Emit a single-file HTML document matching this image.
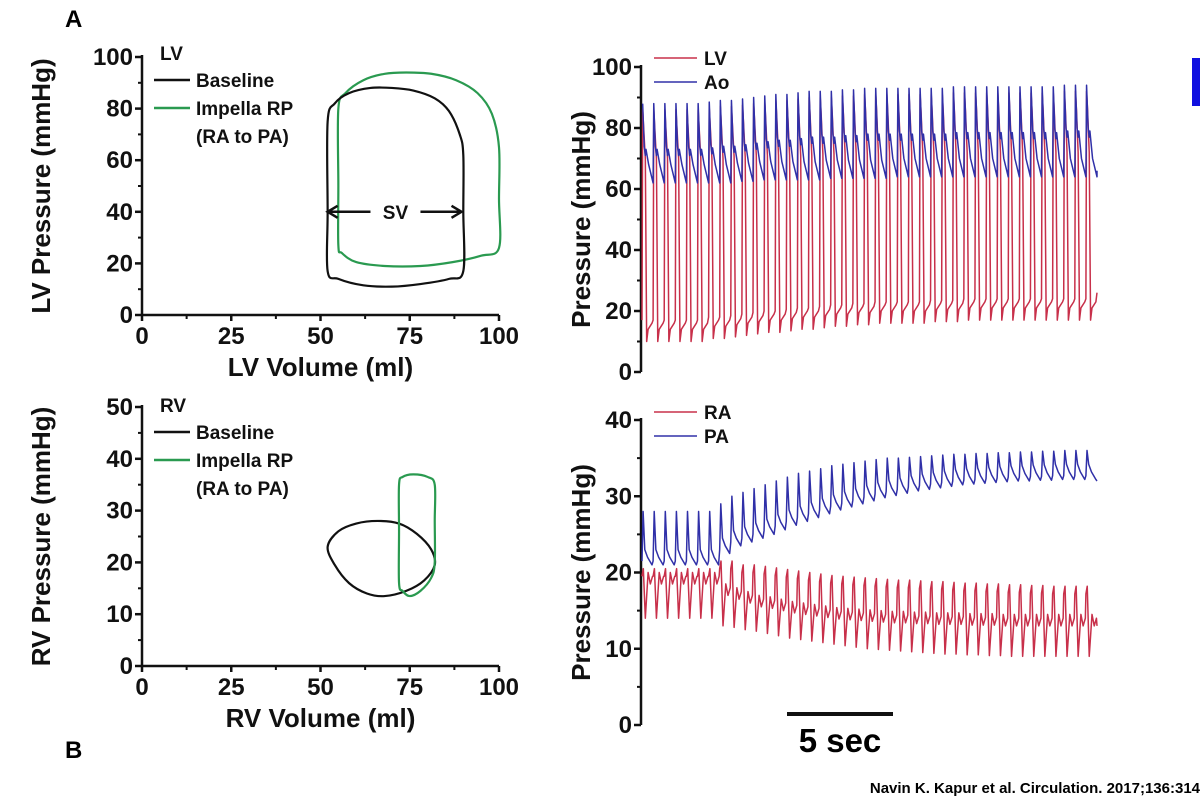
<!DOCTYPE html>
<html><head><meta charset="utf-8"><style>
html,body{margin:0;padding:0;background:#fff;}
svg{display:block;font-family:"Liberation Sans",Arial,sans-serif;}
.tk{font-size:24px;font-weight:bold;fill:#111;}
.tt{font-size:26px;font-weight:bold;fill:#111;}
.lg{font-size:19px;font-weight:bold;fill:#111;}
</style></head><body>
<svg id="svg" width="1200" height="803" viewBox="0 0 1200 803">
<rect x="1192" y="58" width="8" height="48" fill="#1010e0"/>
<text x="65" y="27" style="font-size:24px;font-weight:bold">A</text>
<text x="65" y="758" style="font-size:24px;font-weight:bold">B</text>
<g id="g"></g>
<line x1="787" y1="714" x2="893" y2="714" stroke="#111" stroke-width="4"/>
<text x="840" y="752" text-anchor="middle" style="font-size:33px;font-weight:bold">5 sec</text>
<text x="1200" y="793" text-anchor="end" style="font-size:15px;font-weight:bold">Navin K. Kapur et al. Circulation. 2017;136:314</text>
</svg>
<script>
// LV / Ao per-beat values
const lvAoPeak=[88,88,88,88,88,88,88.5,89,89,89.5,90,90.5,91,91,91.5,92,92,92,92.5,92.5,93,93,93,93,93,93,93,93,93.5,93.5,93.5,93.5,93.5,93.5,93.5,93.5,93.5,93.5,94,94,94];
const aoMin=[62,62,62,62,62,62,62,62,62.5,62.5,63,63,63,63,63,63,63.5,63.5,63.5,63.5,63.5,63.5,64,64,64,64,64,64,64,64,64,64,64,64,64,64,64,64,64,64,64];
const lvMin=[10,10,10,10,10,10,11,11,11.5,12,12.5,13,13,13.5,14,14,14.5,15,15,15.5,15.5,16,16,16,16,16,16.5,16.5,16.5,17,17,17,17,17,17,17,17,17,17,17,17];
// RA / PA per-beat values
const paPeak=[28,28,28,28,28,28,28,29,30,30.5,31,31.5,32,32.5,33,33.3,33.6,34,34.2,34.4,34.6,34.8,35,35,35.1,35.2,35.3,35.4,35.5,35.5,35.6,35.6,35.7,35.7,35.8,35.8,35.9,35.9,36,36,36];
const paMin=[21,21,21,21,21,21,21,22.5,23.5,24,24.5,25,25.6,26.2,26.7,27.2,27.7,28.2,28.6,29,29.4,29.8,30.1,30.4,30.7,30.9,31.1,31.3,31.5,31.6,31.7,31.8,31.9,32,32,32.1,32.1,32.2,32.2,32.2,32.2];
const raPeak=[20.5,20.5,20.5,20.5,20.5,20.5,20.5,21.5,21.5,21,21,20.8,20.6,20.4,20.2,20,19.8,19.6,19.5,19.4,19.3,19.2,19.1,19,19,18.9,18.8,18.8,18.7,18.6,18.6,18.5,18.5,18.4,18.4,18.3,18.3,18.2,18.2,18.2,18.2];
const raMin=[14,14,14,14,14,14,14,13,12.8,12.5,12.3,12,11.7,11.4,11.2,11,10.8,10.6,10.4,10.2,10,9.9,9.8,9.7,9.6,9.5,9.4,9.3,9.3,9.2,9.2,9.1,9.1,9,9,9,9,9,9,9,9];
const raBump=[20,20,20,20,20,20,20,18.5,18,17.5,17,16.8,16.5,16.2,16,15.8,15.6,15.4,15.3,15.2,15.1,15,14.9,14.9,14.8,14.8,14.7,14.7,14.7,14.6,14.6,14.6,14.5,14.5,14.5,14.5,14.5,14.5,14.5,14.5,14.5];
// PV loops [volume, pressure]
const lvBaseVol=[52,52,52,54,58,64,70,76,82,86,89,90,90,90,86,78,70,62,55];
const lvBaseP=[17,40,75,82,86,88,88,87,84,79,70,62,40,17,14,12,11,11.5,14];
const lvImpVol=[55,55,55,57,62,68,74,81,88,94,98,100,100,100,95,87,78,68,60,56];
const lvImpP=[27,50,80,86,91,93.5,94,93.5,91,86,78,65,45,26,23,20.5,19,19,20.5,24];
const rvBaseVol=[52,55,60,66,72,77,81,82,79,74,68,63,58,54];
const rvBaseP=[23,26,27.5,28,27.5,25.5,22.5,19.5,16.5,14.5,13.5,14,16,19.5];
const rvImpVol=[72,72,72,73,76,80,82,82,82,81,78,75,73];
const rvImpP=[16,26,35,36.5,37,36.5,35,28,20,17,14.5,13.5,14.5];

const G=document.getElementById('g');const NS='http://www.w3.org/2000/svg';
function mk(t,a,p){const e=document.createElementNS(NS,t);for(const k in a)e.setAttribute(k,a[k]);(p||G).appendChild(e);return e;}
function lin(d0,d1,r0,r1){return v=>r0+(v-d0)*(r1-r0)/(d1-d0);}

function axes(o){
  const g=mk('g',{});
  
  
  mk('line',{x1:o.x0,y1:o.yT-2,x2:o.x0,y2:o.yB,stroke:'#111','stroke-width':2.5},g);
  o.yt.forEach((v,i)=>{const y=o.ys(v);
    mk('line',{x1:o.x0-7,y1:y,x2:o.x0,y2:y,stroke:'#111','stroke-width':2.5},g);
    if(o.minor){const ym=o.ys(v+o.minor);if(i<o.yt.length-1)mk('line',{x1:o.x0-4,y1:ym,x2:o.x0,y2:ym,stroke:'#111','stroke-width':2},g);}
    const t=mk('text',{x:o.x0-9,y:y+8,'text-anchor':'end',class:'tk'},g);t.textContent=v;
    
    
  });
  if(o.xt){
    mk('line',{x1:o.x0,y1:o.yB,x2:o.xR,y2:o.yB,stroke:'#111','stroke-width':2.5},g);
    o.xt.forEach(v=>{const x=o.xs(v);
      mk('line',{x1:x,y1:o.yB,x2:x,y2:o.yB+6,stroke:'#111','stroke-width':2.5},g);
      const xm=o.xs(v+12.5);if(v<100)mk('line',{x1:xm,y1:o.yB,x2:xm,y2:o.yB+4,stroke:'#111','stroke-width':2},g);
      const t=mk('text',{x:x,y:o.yB+29,'text-anchor':'middle',class:'tk'},g);t.textContent=v;
      
      
    });
    const t=mk('text',{x:(o.x0+o.xR)/2,y:o.yB+61,'text-anchor':'middle',class:'tt'},g);t.textContent=o.xtitle;
    
    
  }
  const cy=(o.yT+o.yB)/2;
  const t=mk('text',{x:o.ytx,y:cy,'text-anchor':'middle',class:'tt',transform:`rotate(-90 ${o.ytx} ${cy})`},g);t.textContent=o.ytitle;
  
  
}
function smooth(pts){
  const n=pts.length;let d=`M${pts[0][0]},${pts[0][1]}`;
  for(let i=0;i<n;i++){const p0=pts[(i-1+n)%n],p1=pts[i],p2=pts[(i+1)%n],p3=pts[(i+2)%n];
    d+=`C${p1[0]+(p2[0]-p0[0])/6},${p1[1]+(p2[1]-p0[1])/6} ${p2[0]-(p3[0]-p1[0])/6},${p2[1]-(p3[1]-p1[1])/6} ${p2[0]},${p2[1]}`;}
  return d+'Z';
}
function loop(vol,p,xs,ys,col,name){
  const e=mk('path',{d:smooth(vol.map((v,i)=>[xs(v),ys(p[i])])),fill:'none',stroke:col,'stroke-width':2.2});
  
  
}
function legend(x,y,title,items){
  const g=mk('g',{});
  
  
  const t=mk('text',{x:x,y:y,class:'lg'},g);t.textContent=title;
  items.forEach((it,i)=>{const yy=y+27+i*28;
    mk('line',{x1:x-6,y1:yy-7,x2:x+30,y2:yy-7,stroke:it[1],'stroke-width':2.5},g);
    const tt=mk('text',{x:x+36,y:yy,class:'lg'},g);tt.textContent=it[0];
    
    
    if(it[2]){const t2=mk('text',{x:x+36,y:yy+28,class:'lg'},g);t2.textContent=it[2];}
  });
}
const GREEN='#2a9a50',RED='#c8304a',BLUE='#3030a8';
// Top-left LV PV loop
{const xs=lin(0,100,142,499),ys=lin(0,100,315,57);
 axes({name:'lv-pv-axes',x0:142,xR:499,yT:57,yB:315,ys,xs,yt:[0,20,40,60,80,100],minor:10,xt:[0,25,50,75,100],xtitle:'LV Volume (ml)',ytitle:'LV Pressure (mmHg)',ytx:50});
 legend(160,60,'LV',[['Baseline','#111'],['Impella RP',GREEN,'(RA to PA)']]);
 loop(lvImpVol,lvImpP,xs,ys,GREEN,'lv-impella-loop');
 loop(lvBaseVol,lvBaseP,xs,ys,'#111','lv-baseline-loop');
 const y=ys(40);
 const a=mk('path',{d:`M${xs(52)},${y}H${xs(64)}M${xs(78)},${y}H${xs(89.5)}M${xs(52)+10},${y-6}L${xs(52)},${y}L${xs(52)+10},${y+6}M${xs(89.5)-10},${y-6}L${xs(89.5)},${y}L${xs(89.5)-10},${y+6}`,stroke:'#111','stroke-width':2.5,fill:'none'});
 
 const t=mk('text',{x:xs(71),y:y+7,'text-anchor':'middle',class:'lg'});t.textContent='SV';
}
// Bottom-left RV PV loop
{const xs=lin(0,100,142,499),ys=lin(0,50,666,407);
 axes({name:'rv-pv-axes',x0:142,xR:499,yT:407,yB:666,ys,xs,yt:[0,10,20,30,40,50],minor:5,xt:[0,25,50,75,100],xtitle:'RV Volume (ml)',ytitle:'RV Pressure (mmHg)',ytx:50});
 legend(160,412,'RV',[['Baseline','#111'],['Impella RP',GREEN,'(RA to PA)']]);
 loop(rvBaseVol,rvBaseP,xs,ys,'#111','rv-baseline-loop');
 loop(rvImpVol,rvImpP,xs,ys,GREEN,'rv-impella-loop');
}
function trace(pts,col,name){const e=mk('polyline',{points:pts.map(p=>p.join(',')).join(' '),fill:'none',stroke:col,'stroke-width':1.5,'stroke-linejoin':'round'});
 }
const T0=642,T1=1097;
// Top-right LV/Ao
{const ys=lin(0,100,372,67),n=lvAoPeak.length,bt=i=>lin(0,n,T0,T1)(i),T=(T1-T0)/n;
 axes({name:'lv-ao-axes',x0:641,yT:67,yB:372,ys,yt:[0,20,40,60,80,100],minor:10,ytitle:'Pressure (mmHg)',ytx:590});
 const lv=[],ao=[];
 for(let i=0;i<n;i++){const x=bt(i),pk=lvAoPeak[i],mn=lvMin[i];
   lv.push([x,ys(mn+7)],[x+T*0.06,ys(pk-2)],[x+T*0.15,ys(pk-8)],[x+T*0.3,ys(aoMin[i]+8)],[x+T*0.42,ys(mn)],[x+T*0.55,ys(mn+4)],[x+T*0.9,ys(mn+6)]);
   ao.push([x+T*0.06,ys(pk)],[x+T*0.2,ys(pk-14)],[x+T*0.3,ys(pk-17)],[x+T*0.36,ys(pk-15)],[x+T*0.6,ys(aoMin[i]+6)],[x+T*1.0,ys(aoMin[i])]);}
 lv.push([T1,ys(26)]);ao.push([T1,ys(66)]);
 trace(lv,RED,'lv-trace');trace(ao,BLUE,'ao-trace');
 [['LV',RED],['Ao',BLUE]].forEach((it,k)=>{const yy=k?89:65;
   mk('line',{x1:654,y1:yy-7,x2:697,y2:yy-7,stroke:it[1],'stroke-width':1.5});
   const t=mk('text',{x:704,y:yy,class:'lg'});t.textContent=it[0];
   });
}
// Bottom-right RA/PA
{const ys=lin(0,40,725,420),n=paPeak.length,bt=i=>lin(0,n,T0,T1)(i),T=(T1-T0)/n;
 axes({name:'ra-pa-axes',x0:641,yT:420,yB:725,ys,yt:[0,10,20,30,40],minor:5,ytitle:'Pressure (mmHg)',ytx:590});
 const ra=[],pa=[];
 for(let i=0;i<n;i++){const x=bt(i);
   pa.push([x,ys(paMin[i]+0.5)],[x+T*0.1,ys(paPeak[i])],[x+T*0.25,ys(paMin[i]+2)],[x+T*0.5,ys(paMin[i]+1)],[x+T*0.9,ys(paMin[i])]);
   ra.push([x,ys(raPeak[i]-1)],[x+T*0.12,ys(raPeak[i])],[x+T*0.3,ys(raMin[i])],[x+T*0.55,ys(raBump[i])],[x+T*0.75,ys(raBump[i]-1.5)],[x+T*0.95,ys(raBump[i]-0.5)]);}
 pa.push([T1,ys(32)]);ra.push([T1,ys(13)]);
 trace(ra,RED,'ra-trace');trace(pa,BLUE,'pa-trace');
 [['RA',RED],['PA',BLUE]].forEach((it,k)=>{const yy=k?443:419;
   mk('line',{x1:654,y1:yy-7,x2:697,y2:yy-7,stroke:it[1],'stroke-width':1.5});
   const t=mk('text',{x:704,y:yy,class:'lg'});t.textContent=it[0];
   });
}
</script>
</body></html>
